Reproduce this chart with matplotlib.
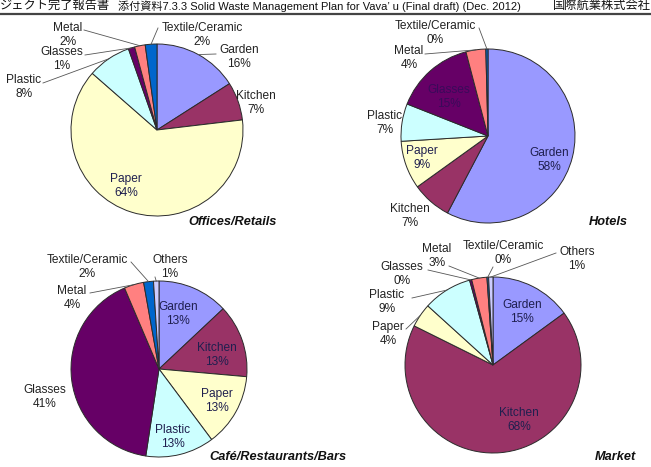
import numpy as np
import matplotlib.pyplot as plt

W, H = 651, 467

# waste composition (share, %), clockwise from 12 o'clock
office_cats = ['Garden', 'Kitchen', 'Paper', 'Plastic', 'Glasses', 'Metal', 'Textile/Ceramic']
office_vals = [16, 7.2, 63.5, 8.2, 1.2, 2.0, 2.2]

hotel_cats = ['Garden', 'Kitchen', 'Paper', 'Plastic', 'Glasses', 'Metal', 'Textile/Ceramic']
hotel_vals = [58, 7.4, 9, 7, 15, 3.7, 0.4]

cafe_cats = ['Garden', 'Kitchen', 'Paper', 'Plastic', 'Glasses', 'Metal', 'Textile/Ceramic', 'Others']
cafe_vals = [13, 13.4, 13.4, 12.6, 41.2, 3.6, 1.8, 1.0]

market_cats = ['Garden', 'Kitchen', 'Paper', 'Plastic', 'Glasses', 'Metal', 'Textile/Ceramic', 'Others']
market_vals = [15, 67.5, 4.4, 9, 0.4, 2.8, 0.3, 0.8]

colors = {'Garden': '#9999FF', 'Kitchen': '#993366', 'Paper': '#FFFFCC',
          'Plastic': '#CCFFFF', 'Glasses': '#660066', 'Metal': '#FF8080',
          'Textile/Ceramic': '#0066CC', 'Others': '#CCCCFF'}

FONT = ['Liberation Sans', 'DejaVu Sans']
JFONT = ['Liberation Sans', 'Noto Sans CJK JP']


def Y(y):
    return H - y


fig = plt.figure(figsize=(W / 100, H / 100), dpi=100)
ax = fig.add_axes([0, 0, 1, 1])


def draw_pie(cats, vals, cx, cy, r, lab_pos, leaders, title, title_x, title_y, inside_col=None):
    wedges, _ = ax.pie(vals, colors=[colors[c] for c in cats], startangle=90,
                       counterclock=False, center=(cx, Y(cy)), radius=r,
                       wedgeprops=dict(edgecolor='#2b2b2b', linewidth=0.7))
    for i, c in enumerate(cats):
        x, y, inside = lab_pos[c]
        col = '#1f1f4f' if inside else '#222222'
        if inside_col and c in inside_col:
            col = inside_col[c]
        ax.text(x, Y(y), f'{c}\n{vals[i]:.0f}%', ha='center', va='center',
                fontsize=8.6, color=col, family=FONT, linespacing=1.15)
        if c in leaders:
            w = wedges[i]
            th = np.deg2rad((w.theta1 + w.theta2) / 2)
            ex, ey = cx + r * np.cos(th), Y(cy) + r * np.sin(th)
            lx, ly = leaders[c]
            ax.plot([lx, ex], [Y(ly), ey], color='#555555', lw=0.6)
    ax.text(title_x, Y(title_y), title, ha='right', va='center', fontsize=9.2,
            fontweight='bold', fontstyle='italic', family=FONT, color='#111111')


draw_pie(office_cats, office_vals, 157, 130, 86,
         {'Garden': (239, 57, False), 'Kitchen': (256, 103, False), 'Paper': (126, 186, True),
          'Plastic': (24, 87, False), 'Glasses': (62, 59, False), 'Metal': (68, 35, False),
          'Textile/Ceramic': (202, 35, False)},
         {'Metal': (84, 30), 'Glasses': (85, 55), 'Plastic': (43, 83),
          'Textile/Ceramic': (158, 28), 'Garden': (216, 54)},
         'Offices/Retails', 277, 222)

draw_pie(hotel_cats, hotel_vals, 488, 136, 87,
         {'Garden': (549, 160, True), 'Kitchen': (410, 216, False), 'Paper': (422, 158, True),
          'Plastic': (385, 123, False), 'Glasses': (449, 97, True), 'Metal': (409, 58, False),
          'Textile/Ceramic': (435, 33, False)},
         {'Textile/Ceramic': (479, 28), 'Metal': (425, 54)},
         'Hotels', 628, 222, inside_col={'Glasses': '#3a0a5a'})

draw_pie(cafe_cats, cafe_vals, 159, 369, 88,
         {'Garden': (178, 314, True), 'Kitchen': (217, 355, True), 'Paper': (217, 401, True),
          'Plastic': (173, 437, True), 'Glasses': (45, 397, False), 'Metal': (72, 298, False),
          'Textile/Ceramic': (87, 267, False), 'Others': (170, 267, False)},
         {'Textile/Ceramic': (131, 262), 'Others': (155, 277), 'Metal': (90, 293)},
         'Café/Restaurants/Bars', 347, 457)

draw_pie(market_cats, market_vals, 493, 365, 88,
         {'Garden': (522, 312, True), 'Kitchen': (519, 420, True), 'Paper': (388, 334, False),
          'Plastic': (387, 302, False), 'Glasses': (402, 274, False), 'Metal': (437, 256, False),
          'Textile/Ceramic': (503, 253, False), 'Others': (577, 259, False)},
         {'Glasses': (428, 270), 'Metal': (449, 266), 'Textile/Ceramic': (493, 267),
          'Others': (556, 253), 'Plastic': (412, 298), 'Paper': (406, 329)},
         'Market', 636, 457)

# page header
ax.text(0, Y(6), 'ジェクト完了報告書', ha='left', va='center', fontsize=8.8,
        family=JFONT, color='#111111')
ax.text(118, Y(6), '添付資料7.3.3 Solid Waste Management Plan for Vava’ u (Final draft) (Dec. 2012)',
        ha='left', va='center', fontsize=8.0, family=JFONT, color='#111111')
ax.text(553, Y(6), '国際航業株式会社', ha='left', va='center', fontsize=8.8,
        family=JFONT, color='#111111')
ax.plot([0, W], [Y(14), Y(14)], color='#444444', lw=1.6)

ax.set_xlim(0, W)
ax.set_ylim(0, H)
ax.set_aspect('equal')
ax.axis('off')

fig.savefig('out.png', dpi=100)
